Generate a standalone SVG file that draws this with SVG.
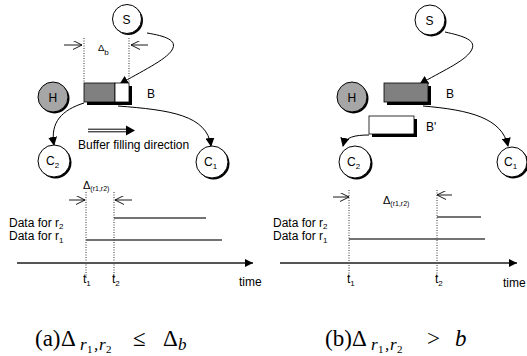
<svg xmlns="http://www.w3.org/2000/svg" width="527" height="356" viewBox="0 0 527 356">
<style>
.t{font-family:"Liberation Sans",Arial,sans-serif;font-size:12px;fill:#000}
.s{font-size:8px}
.d{font-size:11px}
.ds{font-size:7px}
.cap{font-family:"Liberation Serif","Times New Roman",serif;font-size:23px;fill:#000}
.ci{font-style:italic;font-size:17px}
.cn{font-size:11px}
.edge{fill:none;stroke:#000;stroke-width:1}
.dim{fill:none;stroke:#000;stroke-width:0.9}
.dot{stroke:#333;stroke-width:1;stroke-dasharray:1,1.5}
.data{stroke:#444;stroke-width:1.5}
.axis{stroke:#555;stroke-width:2}
.circ{fill:#fff;stroke:#000;stroke-width:1}
.sh{fill:#000}
</style>
<defs>
<marker id="open" viewBox="0 0 10 10" refX="10" refY="5" markerWidth="10" markerHeight="9" markerUnits="userSpaceOnUse" orient="auto"><path d="M0,0 L10,5 L0,10" fill="none" stroke="#000" stroke-width="1"/></marker>
<marker id="solid" viewBox="0 0 10 10" refX="9" refY="5" markerWidth="9" markerHeight="9" markerUnits="userSpaceOnUse" orient="auto"><path d="M0,0 L10,5 L0,10 z" fill="#000"/></marker>
<marker id="axh" viewBox="0 0 10 10" refX="10" refY="5" markerWidth="10" markerHeight="8" markerUnits="userSpaceOnUse" orient="auto"><path d="M0,0 L10,5 L0,10 z" fill="#000"/></marker>
</defs>

<g id="connectors">
<path class="edge" d="M147,33 C165,36 178,40 172,50 C166,60 140,72 120,84" marker-end="url(#solid)"/>
<path class="edge" d="M84,103 C62,110 50,122 54,145" marker-end="url(#solid)"/>
<path class="edge" d="M118,106 C170,110 207,115 211,146" marker-end="url(#solid)"/>
<path class="edge" d="M445,32 C463,36 478,40 471,51 C464,62 440,72 420,84" marker-end="url(#solid)"/>
<path class="edge" d="M369,135 C355,135 345,137 343,146" marker-end="url(#solid)"/>
<path class="edge" d="M423,106 C470,110 502,118 508,146" marker-end="url(#solid)"/>
</g>

<g id="S-left"><circle class="sh" cx="128.5" cy="20.5" r="14.5"/><circle class="circ" cx="127" cy="19" r="14.5"/><text class="t" x="122.5" y="23.5">S</text></g>
<g id="H-left"><circle class="sh" cx="54.5" cy="98.5" r="15"/><circle cx="53" cy="97" r="15" fill="#a6a6a6" stroke="#000" stroke-width="1"/><text class="t" x="48.5" y="101.5">H</text></g>
<g id="B-left">
<rect x="87" y="86" width="45" height="19" fill="#000"/>
<rect x="84" y="83" width="31" height="19" fill="#808080" stroke="#000" stroke-width="0.8"/>
<rect x="115" y="83" width="14" height="19" fill="#fff" stroke="#000" stroke-width="0.8"/>
<text class="t" x="147" y="98">B</text>
</g>
<g id="C2-left"><circle class="sh" cx="55.5" cy="162.5" r="16"/><circle class="circ" cx="54" cy="161" r="16"/><text class="t" x="46" y="165">C<tspan class="s" dy="3">2</tspan></text></g>
<g id="C1-left"><circle class="sh" cx="213.5" cy="163.5" r="16"/><circle class="circ" cx="212" cy="162" r="16"/><text class="t" x="204" y="166">C<tspan class="s" dy="3">1</tspan></text></g>

<g id="buffer-size">
<line class="dot" x1="84" y1="38" x2="84" y2="83"/>
<line class="dot" x1="129" y1="38" x2="129" y2="83"/>
<line class="dim" x1="64" y1="45" x2="82" y2="45" marker-end="url(#open)"/>
<line class="dim" x1="148" y1="45" x2="131" y2="45" marker-end="url(#open)"/>
<text class="t" x="98" y="51" style="font-size:9.5px">Δ<tspan style="font-size:8px" dy="4">b</tspan></text>
</g>
<g id="fill-direction">
<line x1="88" y1="129.2" x2="128" y2="129.2" stroke="#000" stroke-width="1"/>
<line x1="88" y1="131.8" x2="128" y2="131.8" stroke="#000" stroke-width="1"/>
<path d="M126,125.5 L135,130.5 L126,135.5 z" fill="#000"/>
<text class="t" x="78" y="149">Buffer filling direction</text>
</g>

<g id="timeline-left">
<text class="t d" x="83" y="189">Δ<tspan class="ds" dy="2">(r1,r2)</tspan></text>
<line class="dim" x1="69" y1="200" x2="85" y2="200" marker-end="url(#open)"/>
<line class="dim" x1="132" y1="200" x2="115" y2="200" marker-end="url(#open)"/>
<line class="dot" x1="86" y1="192" x2="86" y2="278"/>
<line class="dot" x1="114" y1="192" x2="114" y2="278"/>
<text class="t" x="9" y="227">Data for r<tspan class="s" dy="2">2</tspan></text>
<text class="t" x="9" y="240">Data for r<tspan class="s" dy="2.5">1</tspan></text>
<line class="data" x1="114" y1="218" x2="206" y2="218"/>
<line class="data" x1="86" y1="240" x2="222" y2="240"/>
<line class="axis" x1="17" y1="263" x2="253" y2="263" marker-end="url(#axh)"/>
<text class="t" x="83" y="283">t<tspan class="s" dy="3">1</tspan></text>
<text class="t" x="112" y="283">t<tspan class="s" dy="3">2</tspan></text>
<text class="t" x="239" y="286">time</text>
</g>

<g id="S-right"><circle class="sh" cx="431.5" cy="21.5" r="15"/><circle class="circ" cx="430" cy="20" r="15"/><text class="t" x="425.5" y="24.5">S</text></g>
<g id="H-right"><circle class="sh" cx="353.5" cy="98.5" r="15"/><circle cx="352" cy="97" r="15" fill="#a6a6a6" stroke="#000" stroke-width="1"/><text class="t" x="347.5" y="101.5">H</text></g>
<g id="B-right">
<rect x="387" y="86" width="44" height="19" fill="#000"/>
<rect x="384" y="83" width="44" height="19" fill="#808080" stroke="#000" stroke-width="0.8"/>
<text class="t" x="446" y="98">B</text>
</g>
<g id="Bprime-right">
<rect x="372" y="119" width="45" height="18" fill="#000"/>
<rect x="369" y="116" width="45" height="18" fill="#fff" stroke="#000" stroke-width="0.8"/>
<text class="t" x="426" y="131">B'</text>
</g>
<g id="C2-right"><circle class="sh" cx="356.5" cy="163.5" r="16"/><circle class="circ" cx="355" cy="162" r="16"/><text class="t" x="347" y="166">C<tspan class="s" dy="3">2</tspan></text></g>
<g id="C1-right"><circle class="sh" cx="513.5" cy="163.5" r="15"/><circle class="circ" cx="512" cy="162" r="15"/><text class="t" x="504" y="166">C<tspan class="s" dy="3">1</tspan></text></g>

<g id="timeline-right">
<text class="t d" x="383" y="204">Δ<tspan class="ds" dy="2">(r1,r2)</tspan></text>
<line class="dim" x1="333" y1="197" x2="349" y2="197" marker-end="url(#open)"/>
<line class="dim" x1="452" y1="195" x2="437" y2="195" marker-end="url(#open)"/>
<line class="dot" x1="349" y1="190" x2="349" y2="278"/>
<line class="dot" x1="437" y1="190" x2="437" y2="278"/>
<text class="t" x="273" y="227">Data for r<tspan class="s" dy="2">2</tspan></text>
<text class="t" x="273" y="240">Data for r<tspan class="s" dy="2.5">1</tspan></text>
<line class="data" x1="437" y1="217" x2="481" y2="217"/>
<line class="data" x1="349" y1="239" x2="485" y2="239"/>
<line class="axis" x1="280" y1="263" x2="517" y2="263" marker-end="url(#axh)"/>
<text class="t" x="347" y="283">t<tspan class="s" dy="3">1</tspan></text>
<text class="t" x="435" y="283">t<tspan class="s" dy="3">2</tspan></text>
<text class="t" x="503" y="287">time</text>
</g>

<g id="captions">
<text class="cap" x="35" y="346">(a)<tspan x="61" y="346">Δ</tspan><tspan class="ci" x="80" y="350">r</tspan><tspan class="cn" x="87" y="352.5">1</tspan><tspan class="ci" x="94" y="350">,</tspan><tspan class="ci" x="99" y="350">r</tspan><tspan class="cn" x="106" y="352.5">2</tspan><tspan x="133" y="346">≤</tspan><tspan x="163" y="346">Δ</tspan><tspan class="ci" x="178" y="350">b</tspan></text>
<text class="cap" x="325" y="346">(b)<tspan x="352" y="346">Δ</tspan><tspan class="ci" x="371" y="350">r</tspan><tspan class="cn" x="378" y="352.5">1</tspan><tspan class="ci" x="385" y="350">,</tspan><tspan class="ci" x="390" y="350">r</tspan><tspan class="cn" x="397" y="352.5">2</tspan><tspan x="427" y="346">&gt;</tspan><tspan style="font-style:italic" x="455" y="346">b</tspan></text>
</g>
</svg>
